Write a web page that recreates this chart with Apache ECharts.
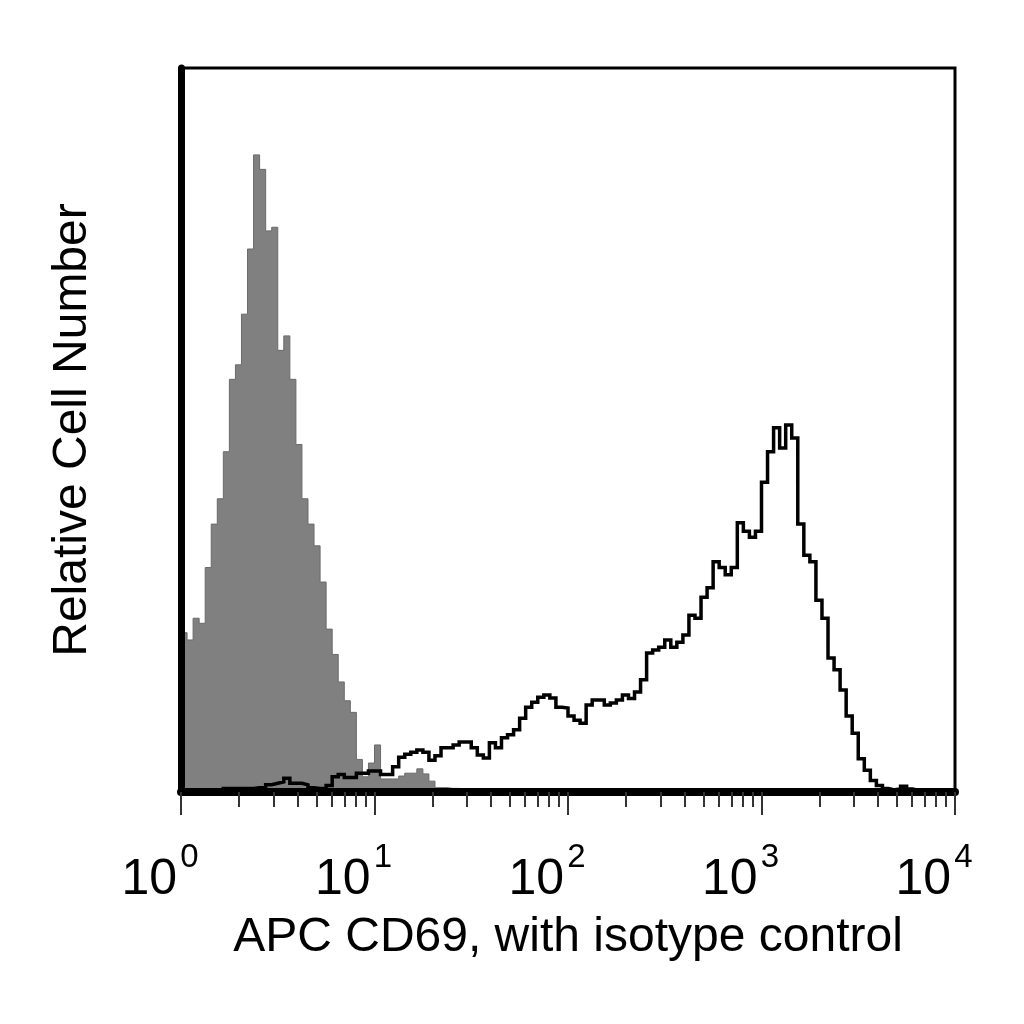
<!DOCTYPE html>
<html>
<head>
<meta charset="utf-8">
<title>APC CD69 histogram</title>
<script src="https://cdn.jsdelivr.net/npm/echarts@6/dist/echarts.min.js"></script>
<style>
    html, body { margin: 0; padding: 0; background: #fff; }
    #main { width: 1024px; height: 1024px; }
</style>
</head>
<body>
<div id="main"></div>
<script>
// histogram channels: 32 bins per decade, 10^0 .. 10^4
var binsPerDecade = 32;
var decadeExponents = ['0', '1', '2', '3', '4'];
var minorTickMultipliers = [2, 3, 4, 5, 6, 7, 8, 9];

// isotype control (filled grey)
var isotypeCounts = [
    22, 21, 24, 23.3, 31, 37, 40.5, 47, 57, 59,
    66, 75, 88, 86, 77.5, 78, 61, 63, 57, 48,
    40.5, 37, 34, 29, 22.5, 19, 15.2, 12.6, 11, 4.5,
    2.1, 4, 6.5, 1.8, 1.8, 1.8, 2.2, 2.6, 2.6, 3.2,
    2.5, 1.5, 0.6, 0.6, 0.5, 0.5, 0.4, 0.4, 0, 0,
    0, 0, 0, 0, 0, 0, 0, 0, 0, 0,
    0, 0, 0, 0, 0, 0, 0, 0, 0, 0,
    0, 0, 0, 0, 0, 0, 0, 0, 0, 0,
    0, 0, 0, 0, 0, 0, 0, 0, 0, 0,
    0, 0, 0, 0, 0, 0, 0, 0, 0, 0,
    0, 0, 0, 0, 0, 0, 0, 0, 0, 0,
    0, 0, 0, 0, 0, 0, 0, 0, 0, 0,
    0, 0, 0, 0, 0, 0, 0, 0
];

// APC CD69 stained (black outline)
var cd69Counts = [
    0, 0, 0, 0, 0, 0, 0, 0.5, 0.5, 0.5,
    0.5, 0.5, 0.6, 0.6, 1.0, 1.2, 1.4, 1.9, 1.2, 1.2,
    1.0, 0.6, 0.5, 0.5, 0.9, 2.1, 2.4, 2.0, 2.0, 2.6,
    2.6, 2.9, 2.9, 2.4, 2.4, 3.5, 4.8, 5.2, 5.5, 5.8,
    5.5, 4.4, 5.0, 6.1, 6.1, 6.5, 6.9, 6.9, 6.1, 5.1,
    4.7, 6.8, 6.1, 7.5, 7.9, 8.6, 10.2, 11.7, 12.4, 13.1,
    13.4, 13.0, 11.7, 11.6, 10.5, 9.9, 9.5, 12.0, 12.7, 12.7,
    12.0, 12.3, 12.7, 13.4, 12.9, 13.8, 15.5, 19.2, 19.6, 20.0,
    21.0, 20.0, 20.7, 21.7, 24.4, 24.0, 26.9, 28.2, 31.8, 31.0,
    30.0, 31.0, 37.2, 36.0, 35.2, 36.0, 42.8, 47.0, 50.3, 47.5,
    50.7, 48.9, 37.0, 32.7, 31.8, 26.5, 24.0, 18.5, 16.9, 14.1,
    10.5, 8.1, 4.6, 3.0, 1.6, 0.9, 0.5, 0.3, 0.4, 0.8,
    0.4, 0.2, 0.1, 0.1, 0, 0, 0, 0
];

var fontName = '"Liberation Sans", Arial, sans-serif';

var main = function () {
    var chart = echarts.init(document.getElementById('main'));

    // bin left edges in decades, plus closing edge of the last bin
    var toSteps = function (counts) {
        var pts = counts.map(function (c, i) {
            return [i / binsPerDecade, c];
        });
        pts.push([counts.length / binsPerDecade, counts[counts.length - 1]]);
        return pts;
    };

    var minorTicks = [];
    for (var d = 0; d < decadeExponents.length - 1; d++) {
        minorTickMultipliers.forEach(function (m) {
            minorTicks.push(d + Math.log10(m));
        });
    }

    var option = {
        backgroundColor: '#fff',
        animation: false,
        grid: {
            left: 181, right: 69, top: 68, bottom: 232,
            show: true, borderColor: '#000', borderWidth: 3,
            backgroundColor: 'transparent'
        },
        xAxis: [
            {
                type: 'value', min: 0, max: 4, interval: 1,
                position: 'bottom', z: 10,
                name: 'APC CD69, with isotype control',
                nameLocation: 'middle', nameGap: 122,
                nameTextStyle: { fontFamily: fontName, fontSize: 48, color: '#000' },
                axisLine: { lineStyle: { color: '#000', width: 8 } },
                axisTick: { length: 23, lineStyle: { color: '#333', width: 2 } },
                splitLine: { show: false },
                axisLabel: {
                    margin: 49, showMinLabel: true, showMaxLabel: true,
                    padding: [0, 42, 0, 0],
                    formatter: function (v) {
                        return '{b|10}{s|' + decadeExponents[Math.round(v)] + '}';
                    },
                    rich: {
                        b: { fontFamily: fontName, fontSize: 50, lineHeight: 78, color: '#000' },
                        s: { fontFamily: fontName, fontSize: 33, lineHeight: 32, verticalAlign: 'top',
                             padding: [0, 0, 0, 3], color: '#000' }
                    }
                }
            },
            {
                type: 'value', min: 0, max: 4,
                position: 'bottom', z: 10,
                axisLine: { show: false },
                axisLabel: { show: false },
                splitLine: { show: false },
                axisTick: {
                    customValues: minorTicks,
                    length: 15, lineStyle: { color: '#333', width: 2 }
                }
            }
        ],
        yAxis: {
            type: 'value', min: 0, max: 100, z: 10,
            name: 'Relative Cell Number',
            nameLocation: 'middle', nameGap: 84,
            nameTextStyle: { fontFamily: fontName, fontSize: 48, color: '#000' },
            axisLine: { show: true, lineStyle: { color: '#000', width: 7 } },
            axisTick: { show: false },
            axisLabel: { show: false },
            splitLine: { show: false }
        },
        series: [
            {
                name: 'isotype', type: 'line', step: 'end',
                showSymbol: false, silent: true,
                data: toSteps(isotypeCounts),
                lineStyle: { color: '#6a6a6a', width: 1 },
                areaStyle: { color: '#808080', opacity: 1 },
                z: 2
            },
            {
                name: 'CD69', type: 'line', step: 'end',
                showSymbol: false, silent: true,
                data: toSteps(cd69Counts),
                lineStyle: { color: '#000', width: 3.5, join: 'miter' },
                z: 3
            }
        ]
    };
    chart.setOption(option);
};

main();
</script>
</body>
</html>
